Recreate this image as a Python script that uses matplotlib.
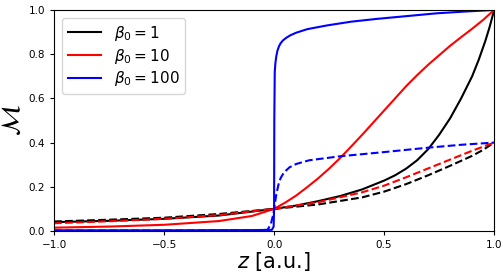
import matplotlib
matplotlib.use("Agg")
import matplotlib.pyplot as plt

# values
z_b1 = [-1.0, -0.75, -0.5, -0.25, 0.0, 0.1, 0.2, 0.3, 0.4, 0.5, 0.55, 0.6, 0.65, 0.7, 0.75,
        0.8, 0.85, 0.9, 0.93, 0.96, 0.98, 1.0]
m_b1 = [0.04, 0.046, 0.055, 0.07, 0.1, 0.115, 0.135, 0.158, 0.188, 0.228, 0.252, 0.282, 0.32,
        0.37, 0.435, 0.51, 0.6, 0.7, 0.775, 0.86, 0.925, 1.0]

z_b10 = [-1.0, -0.75, -0.5, -0.25, -0.1, 0.0, 0.05, 0.1, 0.15, 0.2, 0.25, 0.3, 0.35, 0.4, 0.45,
         0.5, 0.55, 0.6, 0.65, 0.7, 0.75, 0.8, 0.85, 0.9, 0.95, 1.0]
m_b10 = [0.015, 0.02, 0.028, 0.045, 0.068, 0.1, 0.128, 0.16, 0.198, 0.238, 0.282, 0.33, 0.382,
         0.435, 0.49, 0.545, 0.6, 0.655, 0.705, 0.752, 0.795, 0.838, 0.877, 0.915, 0.955, 1.0]

z_b100 = [-1.0, -0.5, -0.1, -0.01, -0.002, 0.0, 0.001, 0.003, 0.006, 0.01, 0.015, 0.022, 0.03,
          0.04, 0.055, 0.075, 0.1, 0.15, 0.24, 0.35, 0.47, 0.6, 0.74, 0.87, 1.0]
m_b100 = [0.003, 0.003, 0.004, 0.005, 0.02, 0.1, 0.5, 0.72, 0.76, 0.79, 0.815, 0.835, 0.85,
          0.862, 0.874, 0.886, 0.897, 0.913, 0.93, 0.947, 0.96, 0.972, 0.985, 0.993, 1.0]

# dashed curves
zd_b1 = [-1.0, -0.75, -0.5, -0.25, 0.0, 0.2, 0.4, 0.5, 0.6, 0.7, 0.8, 0.9, 0.95, 1.0]
md_b1 = [0.043, 0.051, 0.06, 0.077, 0.1, 0.12, 0.152, 0.178, 0.212, 0.252, 0.295, 0.34, 0.367, 0.4]

zd_b10 = [-1.0, -0.75, -0.5, -0.25, 0.0, 0.2, 0.4, 0.5, 0.6, 0.7, 0.8, 0.9, 1.0]
md_b10 = [0.035, 0.044, 0.055, 0.072, 0.1, 0.13, 0.175, 0.205, 0.243, 0.283, 0.323, 0.363, 0.4]

zd_b100 = [-1.0, -0.5, -0.1, -0.03, -0.015, -0.005, 0.0, 0.01, 0.02, 0.03, 0.045, 0.07, 0.1,
           0.16, 0.3, 0.5, 0.7, 0.85, 1.0]
md_b100 = [0.002, 0.002, 0.003, 0.005, 0.03, 0.07, 0.1, 0.165, 0.21, 0.24, 0.265, 0.288, 0.303,
           0.32, 0.338, 0.357, 0.377, 0.39, 0.4]

fig = plt.figure(figsize=(5.03, 2.74), dpi=100)
ax = fig.add_axes([0.1074, 0.157, 0.875, 0.8066])

ax.plot(z_b1, m_b1, color="black", lw=1.5, label=r"$\beta_0 = 1$")
ax.plot(z_b10, m_b10, color="red", lw=1.5, label=r"$\beta_0 = 10$")
ax.plot(z_b100, m_b100, color="blue", lw=1.5, label=r"$\beta_0 = 100$")

ax.plot(zd_b1, md_b1, color="black", lw=1.5, ls="--")
ax.plot(zd_b10, md_b10, color="red", lw=1.5, ls="--")
ax.plot(zd_b100, md_b100, color="blue", lw=1.5, ls="--")

ax.set_xlim(-1, 1)
ax.set_ylim(0, 1)
ax.set_xticks([-1.0, -0.5, 0.0, 0.5, 1.0])
ax.set_yticks([0.0, 0.2, 0.4, 0.6, 0.8, 1.0])
ax.tick_params(labelsize=7.5, length=3)

ax.set_xlabel(r"$z$ [a.u.]", fontsize=15, labelpad=0)
ax.set_ylabel(r"$\mathcal{M}$", fontsize=19, labelpad=2)

ax.legend(loc="upper left", fontsize=11, labelspacing=0.25, handlelength=2.2)

fig.savefig("out.png", dpi=100)
